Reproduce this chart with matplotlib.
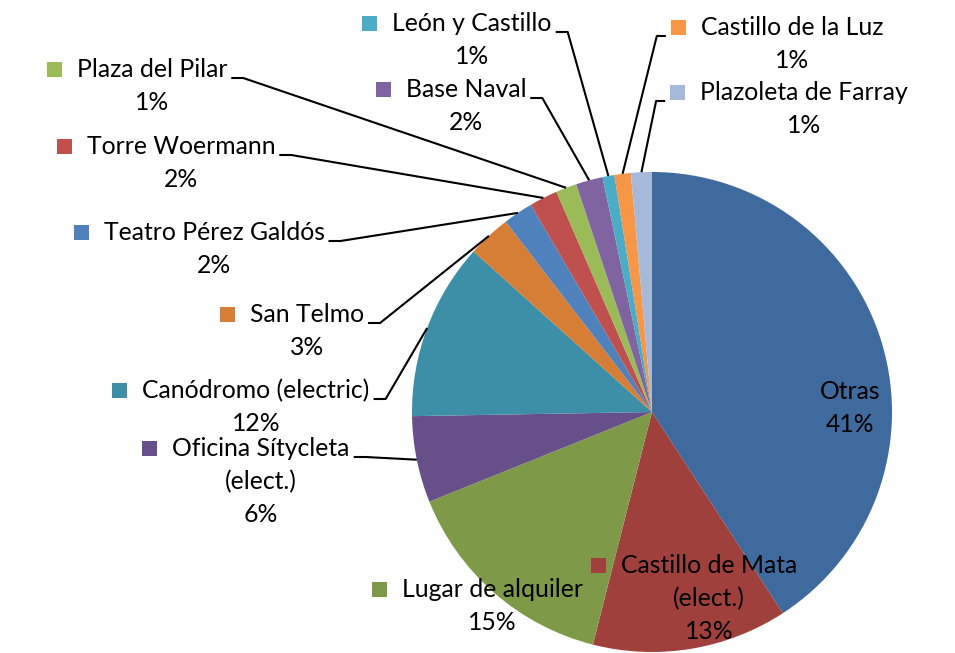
import numpy as np
import matplotlib.pyplot as plt
from matplotlib.patches import Rectangle

# slices, clockwise from 12 o'clock
names = ["Otras", "Castillo de Mata\n(elect.)", "Lugar de alquiler",
         "Oficina Sítycleta\n(elect.)", "Canódromo (electric)", "San Telmo",
         "Teatro Pérez Galdós", "Torre Woermann", "Plaza del Pilar",
         "Base Naval", "León y Castillo", "Castillo de la Luz",
         "Plazoleta de Farray"]
values = [40.7, 13.1, 14.9, 5.8, 11.9, 2.9, 2.0, 1.9, 1.4, 1.8, 0.8, 1.1, 1.4]
colors = ["#3F6A9E", "#A0403D", "#7E9A48", "#67508A", "#3C8FA6", "#D67D36",
          "#4F81BD", "#C0504D", "#9BBB59", "#8064A2", "#4BACC6", "#F79646",
          "#A7B9D8"]

# label layout in pixels: text centre x, first baseline y, marker?, leader side
layout = [
    (850, 399, False, None),
    (709, 573, True, None),
    (492, 597, True, None),
    (261, 456, True, "left"),
    (256, 398, True, "left"),
    (307, 322, True, "left"),
    (214, 240, True, "left"),
    (181, 154, True, "left"),
    (152, 77, True, "left"),
    (466, 97, True, "left"),
    (472, 31, True, "left"),
    (792, 35, True, "right"),
    (804, 100, True, "right"),
]

W, H = 955, 653
CX, CY, R = 652, 412, 240
LINE = 33

plt.rcParams['font.family'] = ['Lato', 'DejaVu Sans']
fig = plt.figure(figsize=(W / 100, H / 100), dpi=100)
ax = fig.add_axes([0, 0, 1, 1])

wedges, _ = ax.pie(values, colors=colors, startangle=-90, counterclock=True,
                   center=(CX, CY), radius=R, wedgeprops=dict(linewidth=0))
ax.set_xlim(0, W)
ax.set_ylim(H, 0)
ax.set_aspect('equal')
ax.axis('off')

total = sum(values)
renderer = fig.canvas.get_renderer()
inv = ax.transData.inverted()

for name, v, w, col, (tx, ty, mark, side) in zip(names, values, wedges, colors, layout):
    lines = name.split("\n") + [f"{v / total * 100:.0f}%"]
    first = None
    for i, s in enumerate(lines):
        t = ax.text(tx, ty + i * LINE, s, ha="center", va="baseline",
                    fontsize=17.8, color="black")
        if i == 0:
            first = t
    bb = first.get_window_extent(renderer)
    (x0, _), (x1, _) = inv.transform([(bb.x0, bb.y0), (bb.x1, bb.y1)])
    left, right = min(x0, x1), max(x0, x1)
    if mark:
        ax.add_patch(Rectangle((left - 30, ty - 15), 15, 15, color=col, lw=0))
    if side is None:
        continue
    th = np.deg2rad((w.theta1 + w.theta2) / 2)
    ex, ey = CX + R * np.cos(th), CY + R * np.sin(th)
    if side == "left":
        sx = right + 4
        hx = sx + 12
    else:
        sx = left - 35
        hx = sx - 9
    ax.plot([sx, hx, ex], [ty + 1, ty + 1, ey], color="black", lw=1.5,
            solid_capstyle="butt")

fig.savefig("out.png", dpi=100)
